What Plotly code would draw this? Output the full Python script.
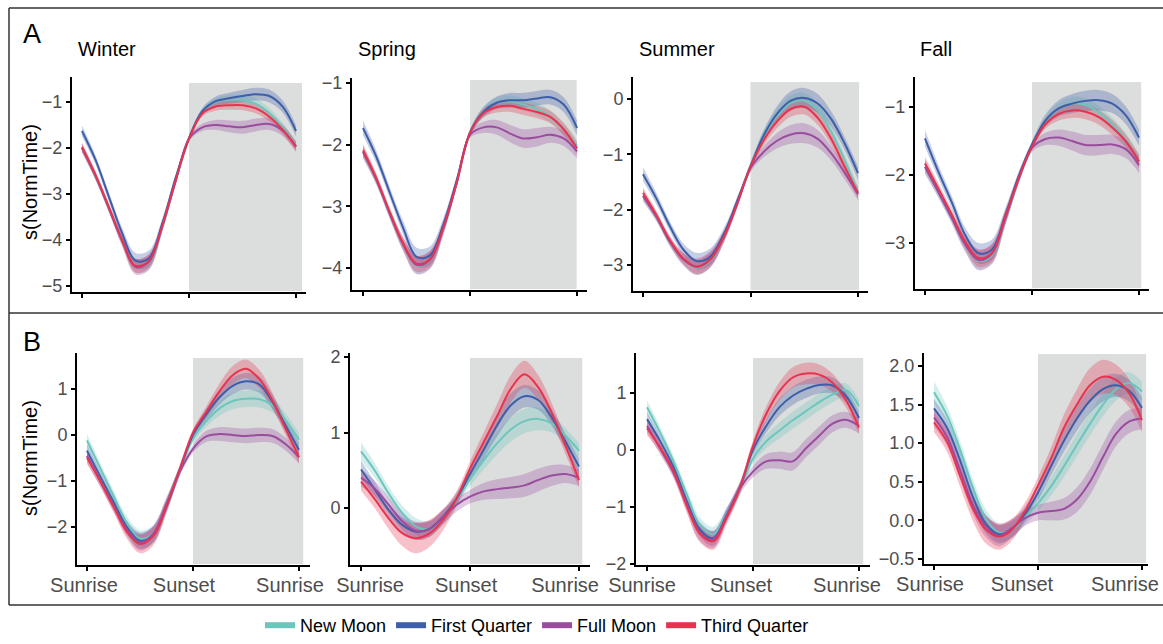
import plotly.graph_objects as go

# ---------------- data ----------------
X = [0, 0.125, 0.25, 0.375, 0.5, 0.625, 0.75, 0.875, 1.0,
     1.125, 1.25, 1.375, 1.5, 1.625, 1.75, 1.875, 2.0]
X_TICK_VALUES = [0, 1, 2]
X_TICK_LABELS = ["Sunrise", "Sunset", "Sunrise"]
SEASONS = ["Winter", "Spring", "Summer", "Fall"]
PHASES = ["New Moon", "First Quarter", "Full Moon", "Third Quarter"]
COLORS = ["#6cc6bd", "#3d5ea9", "#9a4c9f", "#e8334f"]
NIGHT_START = 1.0

# Row A
A_WINTER_NEW = [-2.0, -2.6, -3.3, -4.0, -4.55, -4.5, -3.72, -2.72, -1.8, -1.2, -1.0, -0.95, -0.96, -1.04, -1.24, -1.55, -1.95]
A_WINTER_FQ = [-1.63, -2.25, -3.05, -3.85, -4.45, -4.4, -3.65, -2.65, -1.78, -1.2, -0.98, -0.92, -0.87, -0.83, -0.87, -1.1, -1.63]
A_WINTER_FULL = [-2.0, -2.6, -3.3, -4.02, -4.58, -4.48, -3.7, -2.72, -1.8, -1.55, -1.5, -1.53, -1.55, -1.5, -1.48, -1.62, -1.97]
A_WINTER_THIRD = [-1.98, -2.58, -3.28, -4.0, -4.56, -4.46, -3.7, -2.7, -1.8, -1.25, -1.1, -1.07, -1.07, -1.14, -1.32, -1.6, -1.97]
A_WINTER_NEW_SE = [0.10, 0.09, 0.09, 0.11, 0.15, 0.15, 0.11, 0.07, 0.05, 0.06, 0.08, 0.10, 0.11, 0.11, 0.11, 0.10, 0.10]
A_WINTER_FQ_SE = [0.12, 0.10, 0.10, 0.12, 0.17, 0.17, 0.12, 0.07, 0.05, 0.07, 0.10, 0.12, 0.13, 0.14, 0.14, 0.13, 0.12]
A_WINTER_FULL_SE = [0.10, 0.09, 0.09, 0.12, 0.17, 0.17, 0.12, 0.07, 0.05, 0.08, 0.11, 0.13, 0.14, 0.14, 0.13, 0.12, 0.11]
A_WINTER_THIRD_SE = [0.10, 0.09, 0.09, 0.11, 0.15, 0.15, 0.11, 0.07, 0.05, 0.06, 0.09, 0.10, 0.11, 0.11, 0.10, 0.10, 0.10]

A_SPRING_NEW = [-2.12, -2.57, -3.12, -3.62, -3.96, -3.88, -3.36, -2.62, -1.81, -1.47, -1.32, -1.3, -1.35, -1.42, -1.55, -1.75, -2.02]
A_SPRING_FQ = [-1.73, -2.2, -2.78, -3.35, -3.82, -3.8, -3.3, -2.58, -1.8, -1.47, -1.32, -1.28, -1.28, -1.25, -1.23, -1.35, -1.73]
A_SPRING_FULL = [-2.12, -2.57, -3.12, -3.62, -3.95, -3.87, -3.36, -2.62, -1.84, -1.72, -1.72, -1.82, -1.9, -1.88, -1.84, -1.9, -2.11]
A_SPRING_THIRD = [-2.09, -2.55, -3.1, -3.6, -3.93, -3.86, -3.35, -2.62, -1.81, -1.49, -1.39, -1.37, -1.42, -1.47, -1.55, -1.75, -2.06]
A_SPRING_NEW_SE = [0.10, 0.08, 0.08, 0.10, 0.13, 0.13, 0.10, 0.06, 0.05, 0.07, 0.09, 0.10, 0.10, 0.10, 0.10, 0.10, 0.10]
A_SPRING_FQ_SE = [0.12, 0.10, 0.09, 0.11, 0.15, 0.15, 0.11, 0.07, 0.05, 0.08, 0.10, 0.12, 0.12, 0.12, 0.12, 0.12, 0.12]
A_SPRING_FULL_SE = [0.10, 0.08, 0.08, 0.11, 0.15, 0.15, 0.11, 0.07, 0.05, 0.09, 0.12, 0.14, 0.15, 0.15, 0.13, 0.12, 0.11]
A_SPRING_THIRD_SE = [0.10, 0.08, 0.08, 0.10, 0.13, 0.13, 0.10, 0.06, 0.05, 0.07, 0.09, 0.10, 0.10, 0.10, 0.10, 0.10, 0.10]

A_SUMMER_NEW = [-1.75, -2.13, -2.58, -2.9, -3.05, -2.92, -2.5, -1.88, -1.2, -0.66, -0.3, -0.07, -0.03, -0.2, -0.58, -1.1, -1.68]
A_SUMMER_FQ = [-1.36, -1.8, -2.3, -2.72, -2.93, -2.85, -2.45, -1.85, -1.22, -0.65, -0.26, -0.03, 0.02, -0.08, -0.36, -0.8, -1.34]
A_SUMMER_FULL = [-1.75, -2.13, -2.58, -2.9, -3.03, -2.9, -2.5, -1.9, -1.25, -0.95, -0.75, -0.64, -0.62, -0.72, -0.98, -1.33, -1.72]
A_SUMMER_THIRD = [-1.7, -2.1, -2.55, -2.88, -3.03, -2.9, -2.5, -1.9, -1.22, -0.74, -0.4, -0.18, -0.14, -0.34, -0.72, -1.22, -1.7]
A_SUMMER_NEW_SE = [0.10, 0.08, 0.08, 0.10, 0.13, 0.13, 0.10, 0.07, 0.06, 0.09, 0.12, 0.14, 0.14, 0.13, 0.11, 0.10, 0.10]
A_SUMMER_FQ_SE = [0.12, 0.10, 0.09, 0.11, 0.15, 0.15, 0.11, 0.08, 0.07, 0.10, 0.14, 0.17, 0.18, 0.17, 0.14, 0.12, 0.12]
A_SUMMER_FULL_SE = [0.10, 0.08, 0.08, 0.11, 0.15, 0.15, 0.11, 0.08, 0.07, 0.10, 0.14, 0.17, 0.18, 0.16, 0.13, 0.12, 0.11]
A_SUMMER_THIRD_SE = [0.10, 0.08, 0.08, 0.10, 0.13, 0.13, 0.10, 0.07, 0.06, 0.09, 0.12, 0.14, 0.14, 0.13, 0.11, 0.10, 0.10]

A_FALL_NEW = [-1.88, -2.25, -2.63, -3.02, -3.26, -3.18, -2.65, -2.06, -1.58, -1.22, -1.03, -0.95, -0.97, -1.08, -1.25, -1.48, -1.8]
A_FALL_FQ = [-1.46, -1.95, -2.4, -2.88, -3.15, -3.1, -2.6, -2.02, -1.55, -1.2, -1.02, -0.95, -0.91, -0.9, -0.95, -1.12, -1.45]
A_FALL_FULL = [-1.88, -2.25, -2.63, -3.02, -3.25, -3.16, -2.64, -2.06, -1.6, -1.47, -1.45, -1.5, -1.56, -1.56, -1.55, -1.62, -1.85]
A_FALL_THIRD = [-1.83, -2.2, -2.58, -2.98, -3.22, -3.15, -2.62, -2.05, -1.58, -1.25, -1.1, -1.05, -1.07, -1.15, -1.3, -1.5, -1.8]
A_FALL_NEW_SE = [0.10, 0.08, 0.08, 0.10, 0.13, 0.13, 0.10, 0.07, 0.05, 0.07, 0.09, 0.10, 0.10, 0.10, 0.10, 0.10, 0.10]
A_FALL_FQ_SE = [0.12, 0.10, 0.09, 0.11, 0.15, 0.15, 0.11, 0.07, 0.05, 0.09, 0.12, 0.14, 0.15, 0.15, 0.14, 0.13, 0.12]
A_FALL_FULL_SE = [0.10, 0.08, 0.08, 0.11, 0.15, 0.15, 0.11, 0.07, 0.06, 0.09, 0.12, 0.14, 0.15, 0.15, 0.14, 0.13, 0.12]
A_FALL_THIRD_SE = [0.10, 0.08, 0.08, 0.10, 0.13, 0.13, 0.10, 0.07, 0.05, 0.07, 0.10, 0.11, 0.11, 0.11, 0.11, 0.10, 0.10]

# Row B
B_WINTER_NEW = [-0.12, -0.72, -1.32, -1.9, -2.25, -2.14, -1.5, -0.78, -0.08, 0.3, 0.58, 0.74, 0.79, 0.78, 0.65, 0.32, -0.1]
B_WINTER_FQ = [-0.34, -0.9, -1.45, -2.0, -2.3, -2.17, -1.55, -0.76, 0.0, 0.45, 0.82, 1.07, 1.17, 1.1, 0.72, 0.2, -0.32]
B_WINTER_FULL = [-0.45, -1.0, -1.55, -2.05, -2.33, -2.15, -1.5, -0.8, -0.3, -0.03, 0.02, 0.0, -0.02, 0.0, -0.02, -0.2, -0.48]
B_WINTER_THIRD = [-0.49, -1.0, -1.55, -2.1, -2.37, -2.2, -1.55, -0.75, 0.05, 0.5, 0.95, 1.3, 1.44, 1.22, 0.75, 0.13, -0.48]
B_WINTER_NEW_SE = [0.14, 0.12, 0.12, 0.14, 0.18, 0.18, 0.14, 0.10, 0.08, 0.12, 0.16, 0.18, 0.18, 0.18, 0.16, 0.14, 0.14]
B_WINTER_FQ_SE = [0.14, 0.12, 0.12, 0.14, 0.18, 0.18, 0.14, 0.10, 0.08, 0.12, 0.16, 0.18, 0.18, 0.18, 0.16, 0.14, 0.14]
B_WINTER_FULL_SE = [0.14, 0.12, 0.12, 0.14, 0.18, 0.18, 0.14, 0.10, 0.08, 0.12, 0.15, 0.16, 0.16, 0.16, 0.15, 0.14, 0.14]
B_WINTER_THIRD_SE = [0.14, 0.12, 0.12, 0.15, 0.20, 0.20, 0.15, 0.10, 0.08, 0.12, 0.17, 0.20, 0.20, 0.20, 0.17, 0.14, 0.14]

B_SPRING_NEW = [0.75, 0.5, 0.2, -0.06, -0.24, -0.28, -0.14, 0.1, 0.38, 0.63, 0.86, 1.04, 1.15, 1.18, 1.12, 0.96, 0.76]
B_SPRING_FQ = [0.51, 0.25, -0.02, -0.22, -0.31, -0.28, -0.12, 0.12, 0.45, 0.77, 1.1, 1.36, 1.48, 1.43, 1.2, 0.88, 0.55]
B_SPRING_FULL = [0.4, 0.26, 0.05, -0.17, -0.3, -0.28, -0.12, 0.04, 0.15, 0.22, 0.25, 0.27, 0.3, 0.37, 0.43, 0.45, 0.4]
B_SPRING_THIRD = [0.35, 0.12, -0.13, -0.33, -0.4, -0.34, -0.16, 0.12, 0.52, 0.87, 1.22, 1.58, 1.77, 1.6, 1.26, 0.83, 0.37]
B_SPRING_NEW_SE = [0.12, 0.10, 0.09, 0.10, 0.11, 0.10, 0.09, 0.08, 0.09, 0.12, 0.15, 0.16, 0.16, 0.15, 0.12, 0.10, 0.10]
B_SPRING_FQ_SE = [0.12, 0.10, 0.09, 0.10, 0.11, 0.10, 0.09, 0.08, 0.09, 0.12, 0.15, 0.16, 0.15, 0.13, 0.11, 0.10, 0.10]
B_SPRING_FULL_SE = [0.12, 0.10, 0.10, 0.11, 0.12, 0.11, 0.10, 0.09, 0.09, 0.11, 0.13, 0.14, 0.15, 0.15, 0.14, 0.12, 0.11]
B_SPRING_THIRD_SE = [0.12, 0.12, 0.14, 0.17, 0.20, 0.18, 0.14, 0.10, 0.10, 0.13, 0.16, 0.18, 0.18, 0.16, 0.13, 0.11, 0.10]

B_SUMMER_NEW = [0.75, 0.3, -0.2, -0.78, -1.32, -1.48, -1.12, -0.7, -0.15, 0.15, 0.34, 0.52, 0.68, 0.84, 0.97, 1.05, 0.77]
B_SUMMER_FQ = [0.54, 0.15, -0.3, -0.9, -1.4, -1.55, -1.15, -0.66, 0.0, 0.42, 0.75, 0.95, 1.07, 1.14, 1.13, 0.95, 0.56]
B_SUMMER_FULL = [0.42, 0.02, -0.4, -0.95, -1.45, -1.57, -1.15, -0.68, -0.38, -0.2, -0.18, -0.2, 0.03, 0.25, 0.46, 0.53, 0.42]
B_SUMMER_THIRD = [0.38, 0.04, -0.37, -0.98, -1.47, -1.6, -1.19, -0.68, 0.07, 0.63, 1.03, 1.27, 1.34, 1.32, 1.18, 0.88, 0.39]
B_SUMMER_NEW_SE = [0.12, 0.10, 0.10, 0.11, 0.13, 0.13, 0.11, 0.09, 0.09, 0.12, 0.14, 0.15, 0.15, 0.15, 0.14, 0.12, 0.11]
B_SUMMER_FQ_SE = [0.12, 0.10, 0.10, 0.11, 0.13, 0.13, 0.11, 0.09, 0.09, 0.12, 0.15, 0.16, 0.16, 0.15, 0.14, 0.12, 0.11]
B_SUMMER_FULL_SE = [0.12, 0.10, 0.10, 0.12, 0.15, 0.15, 0.12, 0.10, 0.10, 0.13, 0.15, 0.16, 0.16, 0.16, 0.15, 0.14, 0.13]
B_SUMMER_THIRD_SE = [0.12, 0.10, 0.10, 0.12, 0.15, 0.15, 0.12, 0.10, 0.10, 0.13, 0.16, 0.18, 0.19, 0.18, 0.16, 0.13, 0.11]

B_FALL_NEW = [1.66, 1.36, 0.92, 0.42, 0.02, -0.16, -0.12, 0.04, 0.22, 0.44, 0.7, 0.98, 1.25, 1.5, 1.7, 1.78, 1.67]
B_FALL_FQ = [1.45, 1.2, 0.78, 0.3, -0.05, -0.18, -0.11, 0.08, 0.36, 0.7, 1.03, 1.32, 1.55, 1.7, 1.75, 1.68, 1.46]
B_FALL_FULL = [1.33, 1.08, 0.65, 0.2, -0.08, -0.2, -0.1, 0.03, 0.1, 0.12, 0.15, 0.27, 0.5, 0.82, 1.12, 1.28, 1.32]
B_FALL_THIRD = [1.27, 1.02, 0.58, 0.15, -0.12, -0.21, -0.12, 0.12, 0.45, 0.8, 1.2, 1.5, 1.75, 1.86, 1.82, 1.65, 1.3]
B_FALL_NEW_SE = [0.14, 0.12, 0.11, 0.11, 0.12, 0.12, 0.11, 0.10, 0.10, 0.12, 0.14, 0.15, 0.15, 0.15, 0.15, 0.14, 0.13]
B_FALL_FQ_SE = [0.12, 0.11, 0.11, 0.11, 0.12, 0.12, 0.11, 0.10, 0.10, 0.12, 0.14, 0.16, 0.16, 0.16, 0.15, 0.14, 0.13]
B_FALL_FULL_SE = [0.12, 0.11, 0.11, 0.12, 0.14, 0.14, 0.12, 0.10, 0.10, 0.12, 0.14, 0.16, 0.17, 0.17, 0.16, 0.15, 0.14]
B_FALL_THIRD_SE = [0.13, 0.13, 0.14, 0.16, 0.18, 0.17, 0.14, 0.11, 0.11, 0.14, 0.17, 0.20, 0.22, 0.22, 0.20, 0.18, 0.16]

# ---------------- assemble ----------------
PANEL_SERIES = [
    [A_WINTER_NEW, A_WINTER_FQ, A_WINTER_FULL, A_WINTER_THIRD],
    [A_SPRING_NEW, A_SPRING_FQ, A_SPRING_FULL, A_SPRING_THIRD],
    [A_SUMMER_NEW, A_SUMMER_FQ, A_SUMMER_FULL, A_SUMMER_THIRD],
    [A_FALL_NEW, A_FALL_FQ, A_FALL_FULL, A_FALL_THIRD],
    [B_WINTER_NEW, B_WINTER_FQ, B_WINTER_FULL, B_WINTER_THIRD],
    [B_SPRING_NEW, B_SPRING_FQ, B_SPRING_FULL, B_SPRING_THIRD],
    [B_SUMMER_NEW, B_SUMMER_FQ, B_SUMMER_FULL, B_SUMMER_THIRD],
    [B_FALL_NEW, B_FALL_FQ, B_FALL_FULL, B_FALL_THIRD],
]
PANEL_SE = [
    [A_WINTER_NEW_SE, A_WINTER_FQ_SE, A_WINTER_FULL_SE, A_WINTER_THIRD_SE],
    [A_SPRING_NEW_SE, A_SPRING_FQ_SE, A_SPRING_FULL_SE, A_SPRING_THIRD_SE],
    [A_SUMMER_NEW_SE, A_SUMMER_FQ_SE, A_SUMMER_FULL_SE, A_SUMMER_THIRD_SE],
    [A_FALL_NEW_SE, A_FALL_FQ_SE, A_FALL_FULL_SE, A_FALL_THIRD_SE],
    [B_WINTER_NEW_SE, B_WINTER_FQ_SE, B_WINTER_FULL_SE, B_WINTER_THIRD_SE],
    [B_SPRING_NEW_SE, B_SPRING_FQ_SE, B_SPRING_FULL_SE, B_SPRING_THIRD_SE],
    [B_SUMMER_NEW_SE, B_SUMMER_FQ_SE, B_SUMMER_FULL_SE, B_SUMMER_THIRD_SE],
    [B_FALL_NEW_SE, B_FALL_FQ_SE, B_FALL_FULL_SE, B_FALL_THIRD_SE],
]

# ---------------- layout geometry (pixels) ----------------
W, H = 1163, 644
# left, right, top, bottom of each plotting panel
BOXES = [(72, 306, 77, 292), (352, 587, 78, 290), (633, 868, 77, 291), (915, 1149, 77, 289),
         (77, 310, 353, 565), (350, 590, 353, 565), (636, 870, 353, 565), (924, 1148, 353, 564)]
XRANGES = [(-0.093, 2.093), (-0.103, 2.093), (-0.093, 2.093), (-0.093, 2.093),
           (-0.094, 2.104), (-0.101, 2.101), (-0.104, 2.104), (-0.096, 2.058)]
YRANGES = [(-5.13, -0.457), (-4.357, -0.919), (-3.47, 0.398), (-3.676, -0.559),
           (-2.826, 1.783), (-0.755, 2.053), (-2.018, 1.70), (-0.565, 2.168)]
NIGHT_END = [2.056, 1.996, 2.01, 2.02, 2.04, 2.03, 2.04, 2.04]
NIGHT_TOP = [0.972, 0.99, 0.977, 0.976, 0.976, 0.976, 0.976, 0.995]
# where the bottom-row x labels sit (the composed figure packs them slightly inwards)
LABEL_POS = [(-0.028, 0.915, 1.915), (0.083, 0.964, 1.872),
             (-0.047, 0.887, 1.887), (-0.038, 0.846, 1.837)]


def fx(px):
    return px / W


def fy(py):
    return 1 - py / H


def rgba(hexc, a):
    h = hexc.lstrip("#")
    return "rgba(%d,%d,%d,%.2f)" % (int(h[0:2], 16), int(h[2:4], 16), int(h[4:6], 16), a)


FONT = "Liberation Sans, Arial, Helvetica, sans-serif"
fig = go.Figure()
shapes = []

for k in range(8):
    xa = "x" if k == 0 else "x%d" % (k + 1)
    ya = "y" if k == 0 else "y%d" % (k + 1)
    # confidence bands
    for s in range(4):
        m = PANEL_SERIES[k][s]
        se = PANEL_SE[k][s]
        up = [a + b for a, b in zip(m, se)]
        lo = [a - b for a, b in zip(m, se)]
        fig.add_trace(go.Scatter(x=X, y=up, xaxis=xa, yaxis=ya, mode="lines",
                                 line=dict(width=0, shape="spline", color=COLORS[s]),
                                 showlegend=False, hoverinfo="skip"))
        fig.add_trace(go.Scatter(x=X, y=lo, xaxis=xa, yaxis=ya, mode="lines",
                                 line=dict(width=0, shape="spline", color=COLORS[s]),
                                 fill="tonexty", fillcolor=rgba(COLORS[s], 0.30),
                                 showlegend=False, hoverinfo="skip"))
    # mean lines
    for s in range(4):
        fig.add_trace(go.Scatter(x=X, y=PANEL_SERIES[k][s], xaxis=xa, yaxis=ya, mode="lines",
                                 line=dict(width=2, shape="spline", color=COLORS[s]),
                                 name=PHASES[s], showlegend=False))
    # night shading
    shapes.append(dict(type="rect", xref=xa, yref=ya + " domain", x0=NIGHT_START, x1=NIGHT_END[k],
                       y0=0.005, y1=NIGHT_TOP[k], fillcolor="#dcdddd", line=dict(width=0),
                       layer="below"))

# invisible traces that carry the label axes of the bottom row
for j in range(4):
    fig.add_trace(go.Scatter(x=[None], y=[None], xaxis="x%d" % (9 + j), yaxis="y%d" % (5 + j),
                             mode="lines", showlegend=False, hoverinfo="skip"))

# legend entries
for s in range(4):
    fig.add_trace(go.Scatter(x=[None], y=[None], mode="lines", name=PHASES[s],
                             line=dict(width=6, color=COLORS[s]), showlegend=True))

layout = dict(
    width=W, height=H, margin=dict(l=0, r=0, t=0, b=0, autoexpand=False),
    paper_bgcolor="white", plot_bgcolor="white",
    font=dict(family=FONT, color="black"),
    showlegend=True,
    legend=dict(orientation="h", x=fx(537), xanchor="center", y=0.0, yanchor="bottom",
                font=dict(size=18, color="black"), itemwidth=30, bgcolor="rgba(0,0,0,0)",
                traceorder="normal"),
)

for k in range(8):
    l, r, t, b = BOXES[k]
    xkey = "xaxis" if k == 0 else "xaxis%d" % (k + 1)
    ykey = "yaxis" if k == 0 else "yaxis%d" % (k + 1)
    ya = "y" if k == 0 else "y%d" % (k + 1)
    xa = "x" if k == 0 else "x%d" % (k + 1)
    layout[xkey] = dict(domain=[fx(l), fx(r)], range=list(XRANGES[k]), anchor=ya,
                        tickvals=X_TICK_VALUES, automargin=False,
                        showticklabels=False, showgrid=False, zeroline=False,
                        showline=True, linecolor="black", linewidth=2,
                        ticks="outside", ticklen=4, tickwidth=1.5, tickcolor="black",
                        fixedrange=True)
    yax = dict(domain=[fy(b), fy(t)], range=list(YRANGES[k]), anchor=xa, automargin=False,
               showgrid=False, zeroline=False, showline=True, linecolor="black", linewidth=2,
               ticks="outside", ticklen=4, tickwidth=1.5, tickcolor="black",
               tickfont=dict(size=18, color="#4d4d4d"), fixedrange=True)
    if k == 7:
        yax.update(tick0=0, dtick=0.5, tickformat=".1f")
    else:
        yax.update(tick0=0, dtick=1)
    layout[ykey] = yax

# label axes for the bottom row (Sunrise / Sunset / Sunrise)
for j in range(4):
    k = 4 + j
    l, r, t, b = BOXES[k]
    layout["xaxis%d" % (9 + j)] = dict(
        domain=[fx(l), fx(r)], range=list(XRANGES[k]), anchor="y%d" % (k + 1),
        overlaying="x%d" % (k + 1), side="bottom", automargin=False,
        tickvals=list(LABEL_POS[j]), ticktext=X_TICK_LABELS, ticklabeloverflow="allow",
        showticklabels=True, showgrid=False, zeroline=False, showline=False,
        ticks="outside", ticklen=2, tickcolor="rgba(0,0,0,0)",
        tickfont=dict(size=20, color="#4d4d4d"), fixedrange=True)

# frames around rows
for (x0, y0, x1, y1) in [(9, 8, 1170, 8), (9, 313, 1170, 313), (9, 605, 1170, 605), (9, 8, 9, 605)]:
    shapes.append(dict(type="line", xref="paper", yref="paper", x0=fx(x0), y0=fy(y0),
                       x1=fx(x1), y1=fy(y1), line=dict(color="#333333", width=1.5)))
layout["shapes"] = shapes

annotations = []
for i, (season, px) in enumerate(zip(SEASONS, [76, 356, 637, 918])):
    annotations.append(dict(text=season, x=fx(px), y=fy(49), xref="paper", yref="paper",
                            xanchor="left", yanchor="middle", showarrow=False,
                            font=dict(size=20, color="black")))
for letter, py in [("A", 34), ("B", 342)]:
    annotations.append(dict(text=letter, x=fx(21), y=fy(py), xref="paper", yref="paper",
                            xanchor="left", yanchor="middle", showarrow=False,
                            font=dict(size=27, color="black")))
for py in [182, 458]:
    annotations.append(dict(text="s(NormTime)", x=fx(30), y=fy(py), xref="paper", yref="paper",
                            xanchor="center", yanchor="middle", textangle=-90, showarrow=False,
                            font=dict(size=20, color="black")))
layout["annotations"] = annotations

fig.update_layout(**layout)
fig.write_html("out.html")
